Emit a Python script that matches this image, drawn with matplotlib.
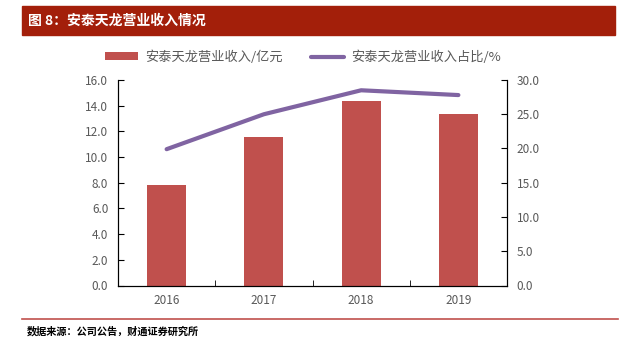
import matplotlib.pyplot as plt
from matplotlib.patches import Rectangle
from matplotlib.lines import Line2D
import numpy as np

plt.rcParams["font.family"] = ["Noto Sans CJK SC", "DejaVu Sans"]

years = ["2016", "2017", "2018", "2019"]
revenue = [7.85, 11.6, 14.4, 13.35]      # 亿元
share = [19.9, 25.0, 28.5, 27.8]         # %

bar_color = "#C0504D"
line_color = "#8064A2"
text_gray = "#595959"
title_red = "#A31F0A"

W, H = 627, 352
fig = plt.figure(figsize=(W / 100, H / 100), dpi=100)

# title bar
fig.patches.append(Rectangle((22 / W, 1 - 35 / H), (615 - 22) / W, 29 / H,
                             transform=fig.transFigure, color=title_red, zorder=0))
fig.text(28 / W, 1 - 20.5 / H, "图 8：安泰天龙营业收入情况", color="white",
         fontsize=10, fontweight="bold", va="center", ha="left")

# bottom rule and source
fig.add_artist(Line2D([22 / W, 618 / W], [1 - 319 / H, 1 - 319 / H],
                      transform=fig.transFigure, color=bar_color, lw=1.2))
fig.text(27 / W, 1 - 331 / H, "数据来源：公司公告，财通证券研究所", color="black",
         fontsize=7.3, fontweight="bold", va="center", ha="left")

ax = fig.add_axes([118 / W, 1 - 285.5 / H, (507 - 118) / W, (285.5 - 80) / H])
x = np.arange(len(years))
ax.bar(x, revenue, width=0.4, color=bar_color, label="安泰天龙营业收入/亿元")
ax.set_xlim(-0.5, len(years) - 0.5)
ax.set_ylim(0, 16)
ax.set_yticks(np.arange(0, 16.1, 2))
ax.set_yticklabels([f"{v:.1f}" for v in np.arange(0, 16.1, 2)])
ax.set_xticks(x)
ax.set_xticklabels(years)
ax.set_xticks(np.arange(0.5, len(years) - 1, 1), minor=True)
ax.tick_params(axis="x", which="major", length=0, pad=6, labelsize=8.5, labelcolor=text_gray)
ax.tick_params(axis="x", which="minor", direction="in", length=4)
ax.tick_params(axis="y", direction="in", length=4, labelsize=8.5, labelcolor=text_gray, pad=7)
ax.spines["top"].set_visible(False)

ax2 = ax.twinx()
ax2.plot(x, share, color=line_color, lw=3, solid_capstyle="round",
         label="安泰天龙营业收入占比/%")
ax2.set_ylim(0, 30)
ax2.set_yticks(np.arange(0, 30.1, 5))
ax2.set_yticklabels([f"{v:.1f}" for v in np.arange(0, 30.1, 5)])
ax2.tick_params(axis="y", direction="in", length=4, labelsize=8.5, labelcolor=text_gray, pad=7)
ax2.spines["top"].set_visible(False)

h1, l1 = ax.get_legend_handles_labels()
h2, l2 = ax2.get_legend_handles_labels()
fig.legend(h1 + h2, l1 + l2, loc="center", bbox_to_anchor=(303 / W, 1 - 57 / H),
           ncol=2, frameon=False, fontsize=9.5, labelcolor=text_gray,
           handlelength=2.5, handleheight=0.5, handletextpad=0.5, columnspacing=2.2)

fig.savefig("out.png", dpi=100)
